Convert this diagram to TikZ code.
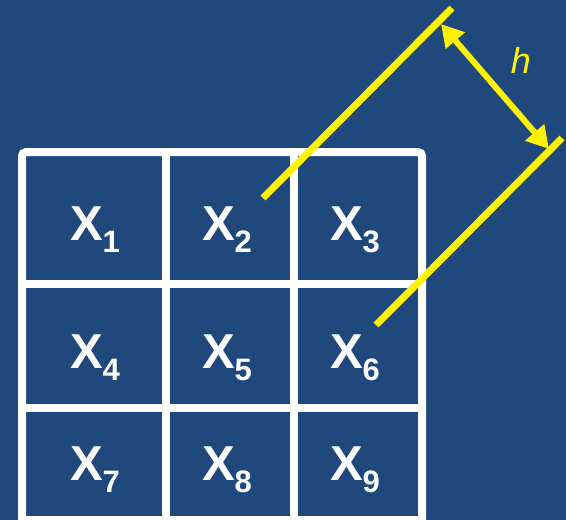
\documentclass[tikz,border=0pt]{standalone}
\usepackage{fontspec}
\setmainfont{Liberation Sans}[BoldFont={Liberation Sans Bold},ItalicFont={Liberation Sans Italic}]
\usetikzlibrary{arrows.meta}
\definecolor{bgblue}{RGB}{31,73,125}
\newcommand{\xsub}[1]{X\raisebox{-12pt}{\fontsize{31}{31}\selectfont #1}}
\begin{document}
\begin{tikzpicture}[x=1pt,y=-1pt,line width=8pt,
  cell/.style={anchor=base,text=white,font=\bfseries\fontsize{49}{49}\selectfont,inner sep=0pt}]
\fill[bgblue] (0,0) rectangle (566,520);
\useasboundingbox (0,0) rectangle (566,520);
\clip (0,0) rectangle (566,520);
% grid
\draw[white,rounded corners=4pt] (22,530) -- (22,152) -- (422,152) -- (422,530);
\draw[white] (22,520) -- (422,520);
\draw[white] (166,152) -- (166,520);
\draw[white] (294,152) -- (294,520);
\draw[white] (22,284) -- (422,284);
\draw[white] (22,408) -- (422,408);
% cells
\node[cell] (x1) at (95,240) {\xsub{1}};
\node[cell] (x2) at (227,240) {\xsub{2}};
\node[cell] (x3) at (355,240) {\xsub{3}};
\node[cell] (x4) at (95,368) {\xsub{4}};
\node[cell] (x5) at (227,368) {\xsub{5}};
\node[cell] (x6) at (355,368) {\xsub{6}};
\node[cell] (x7) at (95,480) {\xsub{7}};
\node[cell] (x8) at (227,480) {\xsub{8}};
\node[cell] (x9) at (355,480) {\xsub{9}};
% yellow band
\coordinate (a1) at (263,198);
\coordinate (a2) at (452,8);
\coordinate (b1) at (376,325);
\coordinate (b2) at (562,138);
\coordinate (h1) at (441,24);
\coordinate (h2) at (549,149);
\draw[yellow,line width=7pt] (a1) -- (a2);
\draw[yellow,line width=7pt] (b1) -- (b2);
\draw[yellow,line width=6pt,{Triangle[length=22pt,width=24pt]}-{Triangle[length=22pt,width=24pt]}] (h1) -- (h2);
\node[text=yellow,font=\itshape\fontsize{36}{36}\selectfont,anchor=base,inner sep=0pt] (h) at (521,73) {h};
\end{tikzpicture}
\end{document}
